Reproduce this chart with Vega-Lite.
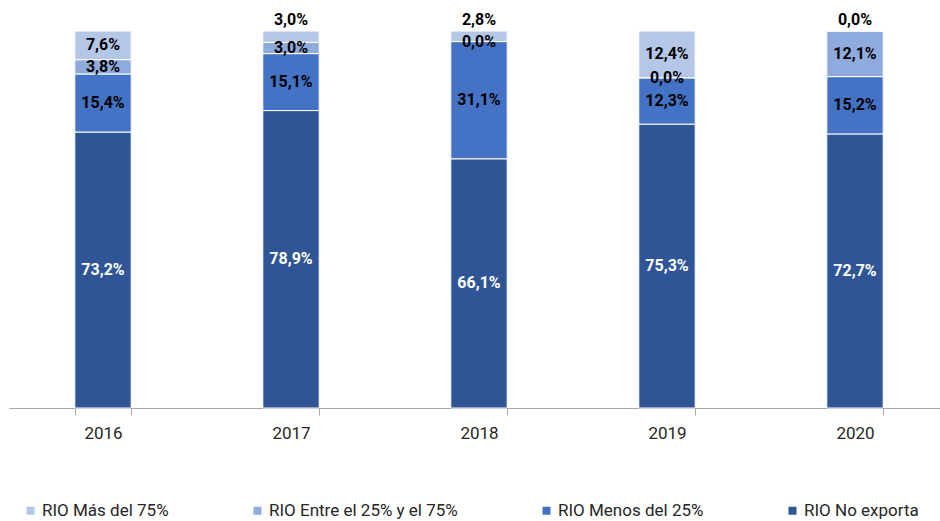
{
  "$schema": "https://vega.github.io/schema/vega-lite/v6.json",
  "width": 940,
  "height": 377,
  "autosize": "none",
  "padding": {"left": 9, "top": 31, "right": 0, "bottom": 113},
  "config": {
    "view": {"stroke": null},
    "font": "Roboto",
    "locale": {"number": {"decimal": ",", "thousands": ".", "grouping": [3], "currency": ["", " €"]}}
  },
  "data": {
    "values": [
      {"year": "2016", "cat": "RIO No exporta", "value": 0.732},
      {"year": "2016", "cat": "RIO Menos del 25%", "value": 0.154},
      {"year": "2016", "cat": "RIO Entre el 25% y el 75%", "value": 0.038},
      {"year": "2016", "cat": "RIO Más del 75%", "value": 0.076},
      {"year": "2017", "cat": "RIO No exporta", "value": 0.789},
      {"year": "2017", "cat": "RIO Menos del 25%", "value": 0.151},
      {"year": "2017", "cat": "RIO Entre el 25% y el 75%", "value": 0.030},
      {"year": "2017", "cat": "RIO Más del 75%", "value": 0.030},
      {"year": "2018", "cat": "RIO No exporta", "value": 0.661},
      {"year": "2018", "cat": "RIO Menos del 25%", "value": 0.311},
      {"year": "2018", "cat": "RIO Entre el 25% y el 75%", "value": 0.0},
      {"year": "2018", "cat": "RIO Más del 75%", "value": 0.028},
      {"year": "2019", "cat": "RIO No exporta", "value": 0.753},
      {"year": "2019", "cat": "RIO Menos del 25%", "value": 0.123},
      {"year": "2019", "cat": "RIO Entre el 25% y el 75%", "value": 0.0},
      {"year": "2019", "cat": "RIO Más del 75%", "value": 0.124},
      {"year": "2020", "cat": "RIO No exporta", "value": 0.727},
      {"year": "2020", "cat": "RIO Menos del 25%", "value": 0.152},
      {"year": "2020", "cat": "RIO Entre el 25% y el 75%", "value": 0.121},
      {"year": "2020", "cat": "RIO Más del 75%", "value": 0.0}
    ]
  },
  "transform": [
    {"stack": "value", "groupby": ["year"], "as": ["v0", "v1"]}
  ],
  "encoding": {
    "x": {
      "field": "year",
      "type": "nominal",
      "scale": {"paddingInner": 0.7, "paddingOuter": 0.35},
      "axis": {
        "title": null,
        "labelAngle": 0,
        "labelFontSize": 17,
        "labelColor": "#262626",
        "labelPadding": 10,
        "domainColor": "#A6A6A6",
        "tickColor": "#A6A6A6",
        "tickSize": 7,
        "tickBand": "extent"
      }
    }
  },
  "layer": [
    {
      "mark": {"type": "bar", "stroke": "white", "strokeWidth": 1},
      "encoding": {
        "y": {"field": "v0", "type": "quantitative", "scale": {"domain": [0, 1]}, "axis": null},
        "y2": {"field": "v1"},
        "color": {
          "field": "cat",
          "type": "nominal",
          "scale": {
            "domain": ["RIO Más del 75%", "RIO Entre el 25% y el 75%", "RIO Menos del 25%", "RIO No exporta"],
            "range": ["#B4C7E7", "#8FAADC", "#4472C4", "#2F5597"]
          },
          "legend": {
            "title": null,
            "orient": "none",
            "direction": "horizontal",
            "legendX": 13,
            "legendY": 471,
            "symbolType": "square",
            "symbolSize": 64,
            "symbolStrokeWidth": 0,
            "labelFontSize": 17,
            "labelLimit": 0,
            "labelColor": "#262626",
            "labelOffset": 3,
            "columnPadding": 80
          }
        }
      }
    },
    {
      "transform": [
        {"filter": "!(datum.cat == 'RIO Más del 75%' && datum.value < 0.05)"},
        {"fold": ["v0", "v1"], "as": ["k", "pos"]},
        {"aggregate": [{"op": "mean", "field": "pos", "as": "mid"}], "groupby": ["year", "cat", "value"]}
      ],
      "mark": {"type": "text", "fontSize": 16, "fontWeight": "bold", "baseline": "middle"},
      "encoding": {
        "y": {"field": "mid", "type": "quantitative"},
        "text": {"field": "value", "type": "quantitative", "format": ".1%"},
        "color": {
          "condition": {"test": "datum.cat == 'RIO No exporta'", "value": "white"},
          "value": "black"
        }
      }
    },
    {
      "transform": [{"filter": "datum.cat == 'RIO Más del 75%' && datum.value < 0.05"}],
      "mark": {"type": "text", "fontSize": 16, "fontWeight": "bold", "baseline": "middle", "dy": -11},
      "encoding": {
        "y": {"field": "v1", "type": "quantitative"},
        "text": {"field": "value", "type": "quantitative", "format": ".1%"},
        "color": {"value": "black"}
      }
    }
  ]
}
